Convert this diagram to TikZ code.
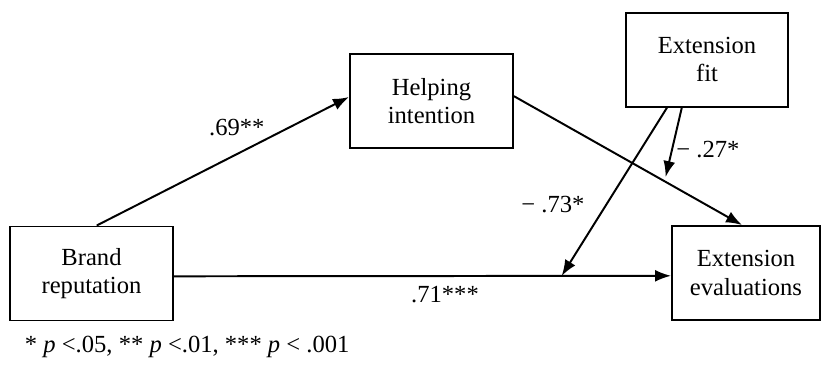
\documentclass[tikz,border=0pt]{standalone}
\usepackage{fontspec}
\setmainfont{Liberation Serif}
\usepackage{tikz}
\usetikzlibrary{arrows.meta, positioning, calc}

\begin{document}
\begin{tikzpicture}[
    font=\fontsize{17.5}{20}\selectfont,
    var/.style={draw, line width=1.4pt, align=center, minimum width=4.075cm, minimum height=2.35cm, inner sep=0pt},
    path/.style={line width=1.4pt, -{Latex[length=0.4cm, width=0.3cm]}}
]
    \useasboundingbox (0,0) rectangle (20.55,9.325);
    % variables
    \node[var] (brand) at (2.2875, 2.4875) {Brand\\reputation};
    \node[var] (helping) at (10.7875, 6.8) {Helping\\intention};
    \node[var, minimum width=4.05cm] (fit) at (17.675, 7.8325) {Extension\\fit};
    \node[var, minimum width=3.7cm] (eval) at (18.65, 2.5) {Extension\\evaluations};
    % paths
    \draw[path] ([xshift=0.13cm]brand.north) -- ([yshift=0.1cm]helping.west);
    \draw[path] ([yshift=0.12cm]helping.east) -- ([xshift=-0.1cm]eval.north);
    \draw[path] ([yshift=-0.07cm]brand.east) -- ([yshift=-0.07cm]eval.west);
    \coordinate (m1) at ($([yshift=-0.07cm]brand.east)!0.78!([yshift=-0.07cm]eval.west)$);
    \coordinate (m2) at ($([yshift=0.12cm]helping.east)!0.665!([xshift=-0.1cm]eval.north)$);
    \draw[path] ([xshift=-1.0cm]fit.south) -- (m1);
    \draw[path] ([xshift=-0.63cm]fit.south) -- ([yshift=0.12cm]m2);
    % coefficients
    \node (c69) at (5.92, 6.125) {.69**};
    \node (c71) at (11.125, 1.95) {.71***};
    \node (c73) at (13.825, 4.2) {− .73*};
    \node (c27) at (17.7, 5.575) {− .27*};
    \node[anchor=west] (note) at (0.5, 0.65) {* \textit{p} <.05, ** \textit{p} <.01, *** \textit{p} < .001};
\end{tikzpicture}
\end{document}
